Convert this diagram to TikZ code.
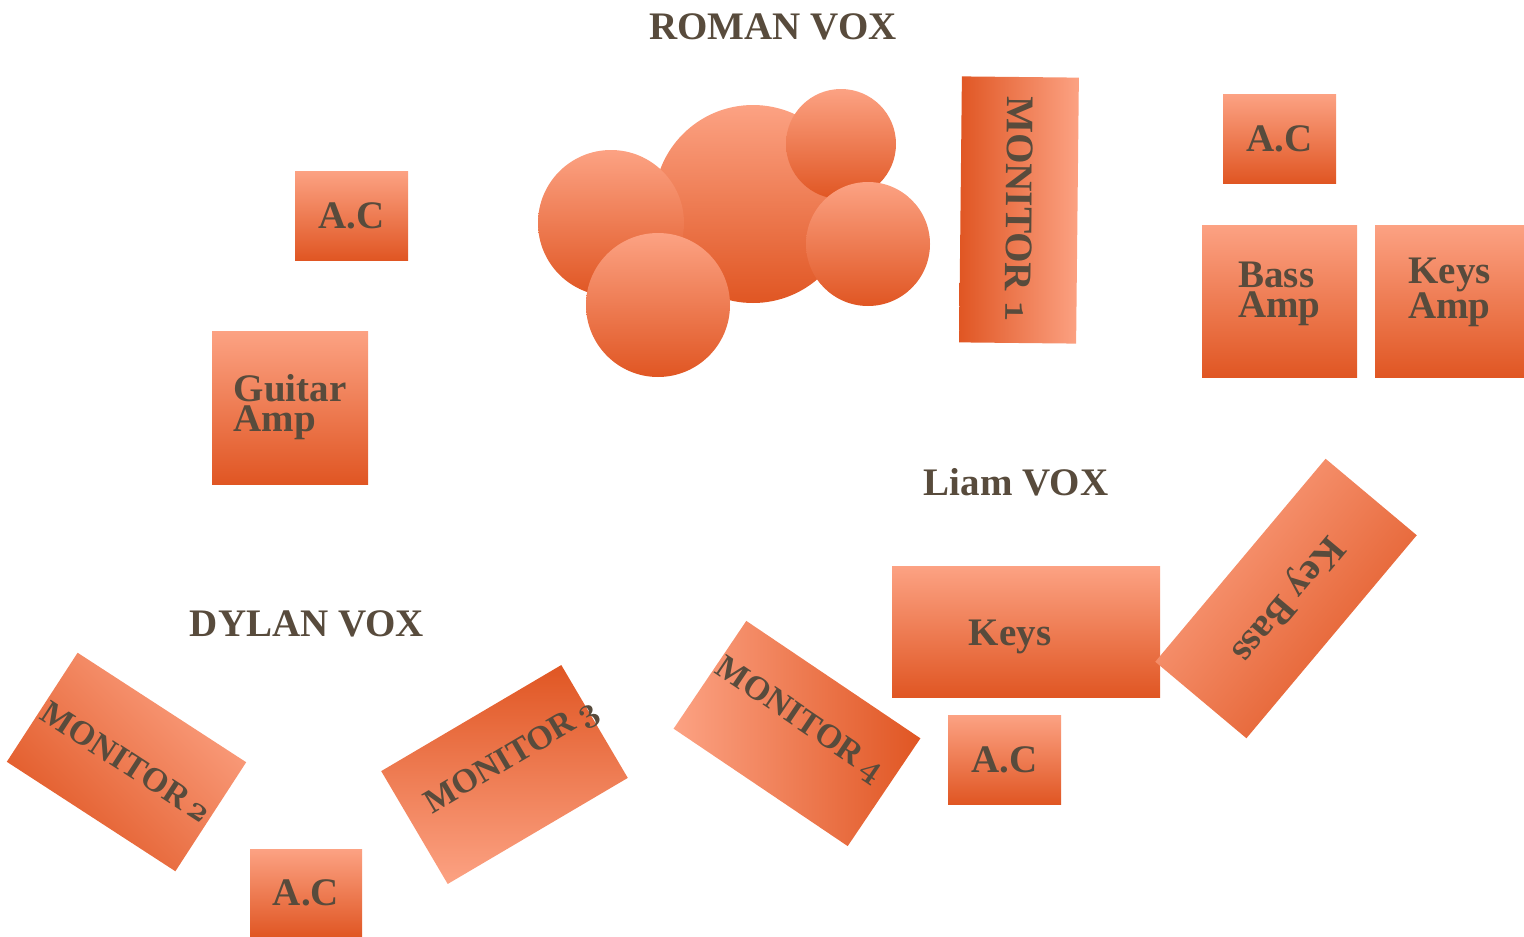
\documentclass[tikz,border=0pt]{standalone}
\usepackage{fontspec}
\setmainfont{Liberation Serif}
\usepackage{tikz}
\usetikzlibrary{positioning}
\definecolor{padlight}{RGB}{252,162,131}
\definecolor{paddark}{RGB}{224,86,35}
\definecolor{ink}{RGB}{88,75,60}
% old style figures, scaled up from the 10pt math italic
\newcommand\osnum[2][3.9]{\scalebox{#1}{\fontsize{10}{12}\usefont{OML}{cmm}{b}{it}#2}}

\begin{document}
\begin{tikzpicture}[x=1pt,y=-1pt,
    lbl/.style={text=ink,font=\bfseries\fontsize{39}{30}\selectfont,align=left,inner sep=0pt},
    lblsm/.style={lbl,font=\bfseries\fontsize{34}{30}\selectfont},
    pad/.style={rectangle,inner sep=0pt,top color=padlight,bottom color=paddark},
    padr/.style={rectangle,inner sep=0pt,top color=paddark,bottom color=padlight},
    padh/.style={rectangle,inner sep=0pt,left color=padlight,right color=paddark},
    padball/.style={top color=padlight,bottom color=paddark}]
  \useasboundingbox (0,0) rectangle (1524,937);

  % drum kit
  \shade[padball] (753,204) circle[radius=99pt];
  \shade[padball] (611,223) circle[radius=73pt];
  \shade[padball] (658,305) circle[radius=72pt];
  \shade[padball] (841,144) circle[radius=55pt];
  \shade[padball] (868,244) circle[radius=62pt];

  % vocal spots
  \node[lbl] (romanvox) at (773,27) {ROMAN VOX};
  \node[lbl] (liamvox) at (1016,482) {Liam VOX};
  \node[lbl] (dylanvox) at (307,624) {DYLAN VOX};

  % amps and a.c.
  \node[pad,lbl,minimum width=113,minimum height=89] (acleft) at (351.5,215.5) {A.C};
  \node[pad,lbl,minimum width=156,minimum height=153] (guitaramp) at (290,407.5) {Guitar\\Amp};
  \node[pad,lbl,minimum width=113,minimum height=89] (acright) at (1279.5,138.5) {A.C};
  \node[pad,minimum width=155,minimum height=152] (bassamp) at (1279.5,301) {};
  \node[lbl] (bassamplbl) at ([shift={(0,-7)}]bassamp.center) {Bass\\Amp};
  \node[pad,minimum width=149,minimum height=152] (keysamp) at (1449.5,301) {};
  \node[lbl] (keysamplbl) at ([shift={(0,-9)}]keysamp.center) {Keys\\Amp};
  \node[pad,minimum width=268,minimum height=131] (keys) at (1026,631.5) {};
  \node[lbl] (keyslbl) at ([shift={(-16,5)}]keys.center) {Keys};
  \node[pad,lbl,minimum width=113,minimum height=89] (ackeys) at (1004.5,759.5) {A.C};
  \node[pad,lbl,minimum width=112,minimum height=88] (acdylan) at (306,893) {A.C};
  \node[pad,shading angle=50,lbl,minimum width=265,minimum height=119,rotate=230] (keybass) at (1286,598.5) {Key Bass};

  % monitors
  \node[padh,left color=paddark,right color=padlight,lbl,minimum width=266,minimum height=117,rotate=-90.6] (mon1) at (1019,210) {MONITOR \osnum{1}};
  \node[pad,shading angle=-45,lblsm,minimum width=201,minimum height=130,rotate=-33] (mon2) at (126.5,762) {MONITOR\,\osnum[3.4]{2}};
  \node[padr,minimum width=209,minimum height=131,rotate=30.5] (mon3) at (504.5,774.5) {};
  \node[lblsm,rotate=30.5] (mon3lbl) at ([shift={(7.5,-16.5)}]mon3.center) {MONITOR\,\osnum[3.4]{3}};
  \node[padh,minimum width=210,minimum height=130,rotate=-34] (mon4) at (797,733.5) {};
  \node[lblsm,rotate=-34] (mon4lbl) at ([shift={(2,-13.5)}]mon4.center) {MONITOR\,\osnum[3.4]{4}};
\end{tikzpicture}
\end{document}
